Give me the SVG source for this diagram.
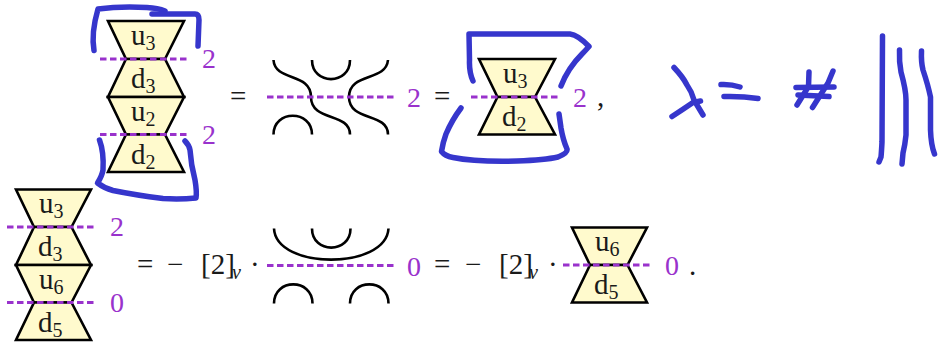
<svg xmlns="http://www.w3.org/2000/svg" width="940" height="345" viewBox="0 0 940 345">
<style>
.t{fill:#fffacd;stroke:#000;stroke-width:2.6;stroke-linejoin:miter}
.d{fill:none;stroke:#9932cc;stroke-width:2.8;stroke-dasharray:6.5 3.5}
.s{fill:none;stroke:#000;stroke-width:2.6;stroke-linecap:butt}
.b{fill:none;stroke:#3636cc;stroke-width:5.5;stroke-linecap:round;stroke-linejoin:round}
text{font-family:"Liberation Serif","Times New Roman",serif;fill:#1a1a1a}
.m{font-size:29px}
.l{font-size:29px;text-anchor:start}
.sub{font-size:20px}
.p{font-size:28px;fill:#9932cc}
.e{font-size:29px}
.v{font-size:20px;font-style:italic}
</style>
<rect width="940" height="345" fill="#fff"/>

<g id="stack-top">
<polygon class="t" points="108,21 184,21 165,59 126,59"/>
<polygon class="t" points="126,59 165,59 184,97 108,97"/>
<polygon class="t" points="108,97 184,97 165,134.500 126,134.500"/>
<polygon class="t" points="126,134.500 165,134.500 184,172 108,172"/>
<line class="d" x1="100" y1="59" x2="189" y2="59"/>
<line class="d" x1="100" y1="134.500" x2="189" y2="134.500"/>
<text class="l" x="131" y="45">u<tspan class="sub" dy="5">3</tspan></text>
<text class="l" x="131" y="88">d<tspan class="sub" dy="5">3</tspan></text>
<text class="l" x="131" y="121">u<tspan class="sub" dy="5">2</tspan></text>
<text class="l" x="131" y="164">d<tspan class="sub" dy="5">2</tspan></text>
<text class="p" x="202" y="68">2</text>
<text class="p" x="202" y="144">2</text>
</g>

<g id="strands-top">
<path class="s" d="M273.500 60C275 82 311 72 311 97C311 122 350 112 350 134.500"/>
<path class="s" d="M388 60C386 82 349 72 349 97C349 122 388 112 388 134.500"/>
<path class="s" d="M312 60C312 85.500 350 85.500 350 60"/>
<path class="s" d="M273.500 134.500C273.500 109.500 312 109.500 312 134.500"/>
<line class="d" x1="267" y1="97" x2="395" y2="97"/>
<text class="p" x="407" y="106.500">2</text>
</g>

<g id="frame-top">
<polygon class="t" points="479,59 555,59 535,97 497.500,97"/>
<polygon class="t" points="497.500,97 535,97 555,134.500 479,134.500"/>
<line class="d" x1="471" y1="97" x2="561" y2="97"/>
<text class="l" x="503" y="83">u<tspan class="sub" dy="5">3</tspan></text>
<text class="l" x="502" y="126">d<tspan class="sub" dy="5">2</tspan></text>
<text class="p" x="573" y="106.500">2</text>
</g>

<g id="stack-bottom">
<polygon class="t" points="16,189.500 91,189.500 71.500,227 34,227"/>
<polygon class="t" points="34,227 71.500,227 91,265 16,265"/>
<polygon class="t" points="16,265 91,265 71.500,302.500 34,302.500"/>
<polygon class="t" points="34,302.500 71.500,302.500 91,340 16,340"/>
<line class="d" x1="7" y1="227" x2="96" y2="227"/>
<line class="d" x1="7" y1="302.500" x2="96" y2="302.500"/>
<text class="l" x="39" y="213">u<tspan class="sub" dy="5">3</tspan></text>
<text class="l" x="38" y="256">d<tspan class="sub" dy="5">3</tspan></text>
<text class="l" x="39" y="289">u<tspan class="sub" dy="5">6</tspan></text>
<text class="l" x="38" y="332">d<tspan class="sub" dy="5">5</tspan></text>
<text class="p" x="110" y="236">2</text>
<text class="p" x="110" y="312">0</text>
</g>

<g id="strands-bottom">
<path class="s" d="M274 228.500C276 270 386 270 388.500 228.500"/>
<path class="s" d="M312 228.500C312 254 350.500 254 350.500 228.500"/>
<path class="s" d="M274 303.500C274 278 312.500 278 312.500 303.500"/>
<path class="s" d="M350 303.500C350 278 388.500 278 388.500 303.500"/>
<line class="d" x1="267" y1="265.500" x2="395" y2="265.500"/>
<text class="p" x="407" y="275.500">0</text>
</g>

<g id="frame-bottom">
<polygon class="t" points="572,227.500 647,227.500 627.500,265 590,265"/>
<polygon class="t" points="590,265 627.500,265 647,302.500 572,302.500"/>
<line class="d" x1="563" y1="265" x2="652" y2="265"/>
<text class="l" x="595" y="251">u<tspan class="sub" dy="5">6</tspan></text>
<text class="l" x="594" y="294">d<tspan class="sub" dy="5">5</tspan></text>
<text class="p" x="665" y="275">0</text>
</g>

<g id="equations">
<text class="e" x="230" y="106">=</text>
<text class="e" x="434" y="106">=</text>
<text class="e" x="597" y="106">,</text>
<text class="e" x="137" y="274">=</text>
<text class="e" x="167" y="274">−</text>
<text class="e" x="201" y="274">[2]</text>
<text class="v" x="232" y="279">v</text>
<text class="e" x="250" y="274">·</text>
<text class="e" x="434" y="274">=</text>
<text class="e" x="465" y="274">−</text>
<text class="e" x="499" y="274">[2]</text>
<text class="v" x="529" y="279">v</text>
<text class="e" x="548" y="274">·</text>
<text class="e" x="689" y="275">.</text>
</g>

<g id="connectors">
<path class="b" d="M94 50.500Q91 33 98 9Q120 6 147 7.500Q158 8 165 11"/>
<path class="b" d="M152 14L195 14Q199 14 199 20L198 46"/>
<path class="b" d="M99.500 140Q104 152 103 170Q102 176 97.500 183Q104 188 113 190.500Q135 195 163 198.500Q180 199.500 196 198Q197 192 195 180Q191 165 190 150Q189 145 185 141"/>
<path class="b" d="M473 81Q469 72 469.500 60L469 34L570 34Q578 35 589 46.500Q585 51 582 54Q568 68 561 86"/>
<path class="b" d="M461 108Q452 120 446 134Q443 142 441.500 151.500Q445 156 453 157.500Q475 162 517 161Q545 160 558 157Q568 153 567 149Q563 140 561 128L559 114"/>
<path class="b" d="M674 67.500Q683 77 687 85Q692 92 694 100L703 115"/>
<path class="b" d="M672 116.500Q682 110 693 102.500L700.500 101"/>
<path class="b" d="M721 84.500Q731 84 740 87"/>
<path class="b" d="M724 96.500Q742 96 758 98.500"/>
<path class="b" d="M809 72L808.500 86.500L797 105"/>
<path class="b" d="M833 71L828 83L812.500 107.500"/>
<path class="b" d="M796 87.500L834 87"/>
<path class="b" d="M798 95L829 96.500"/>
<path class="b" d="M882.500 36L882 142Q881.500 152 881 157L879 162"/>
<path class="b" d="M899.500 50Q899 62 901 72Q906 90 906 100L906 135Q905 145 903 153L902 164"/>
<path class="b" d="M921.500 51Q921 62 923 70Q928 85 930.500 97L930.500 130Q931 145 934.500 154"/>
</g>
</svg>
